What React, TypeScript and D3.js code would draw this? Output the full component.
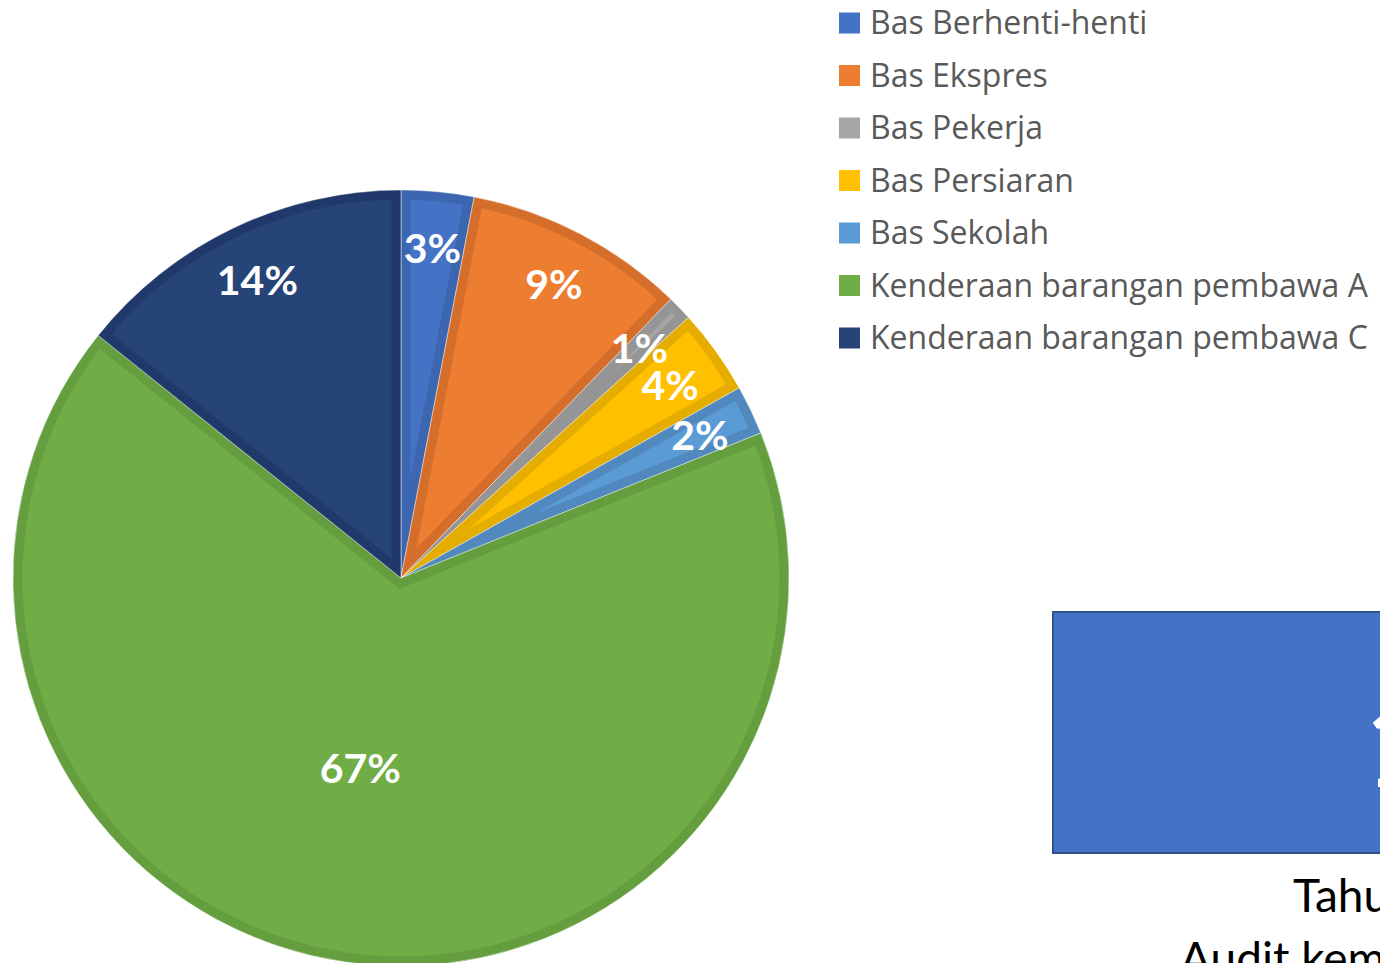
import React from "react";
import * as d3 from "d3";

const categories = [
  "Bas Berhenti-henti",
  "Bas Ekspres",
  "Bas Pekerja",
  "Bas Persiaran",
  "Bas Sekolah",
  "Kenderaan barangan pembawa A",
  "Kenderaan barangan pembawa C",
];
const values = [3.02, 9.22, 1.04, 3.57, 2.05, 66.85, 14.25];
const labels = ["3%", "9%", "1%", "4%", "2%", "67%", "14%"];
const fills = ["#4472C4", "#ED7D31", "#A5A5A5", "#FFC000", "#5B9BD5", "#70AD47", "#264478"];
const borders = ["#3D66B0", "#D56E2B", "#959595", "#E5AD00", "#5189BF", "#659E3F", "#21396A"];

const W = 1380;
const H = 963;
const cx = 401;
const cy = 578;
const R = 388;

export default function App() {
  const pie = d3.pie<number>().sort(null).value((d) => d)(values);
  const arc = d3.arc<d3.PieArcDatum<number>>().innerRadius(0).outerRadius(R);
  const labelPos = (d: d3.PieArcDatum<number>) => {
    const big = d.data > 50;
    const frac = big ? 0.5 : 0.855;
    const a = (d.startAngle + d.endAngle) / 2 + (big ? 0.065 : 0);
    return [Math.sin(a) * R * frac, -Math.cos(a) * R * frac];
  };
  const legendY = d3.scaleLinear().domain([0, 1]).range([23, 75.5]);
  const legendFont = "'Open Sans', sans-serif";
  const labelFont = "Lato, 'Open Sans', sans-serif";
  return (
    <svg width={W} height={H} style={{ position: "absolute", left: 0, top: 0 }}>
      <defs>
        {pie.map((d, i) => (
          <clipPath id={`clip${i}`} key={i}>
            <path d={arc(d) || ""} />
          </clipPath>
        ))}
      </defs>
      <g transform={`translate(${cx},${cy})`}>
        {pie.map((d, i) => (
          <g key={i}>
            <path
              d={arc(d) || ""}
              fill={fills[i]}
              stroke={borders[i]}
              strokeWidth={19}
              strokeLinejoin="miter"
              clipPath={`url(#clip${i})`}
            />
            <path d={arc(d) || ""} fill="none" stroke="#ffffff" strokeOpacity={0.45} strokeWidth={1} />
          </g>
        ))}
        {pie.map((d, i) => {
          const [x, y] = labelPos(d);
          return (
            <text
              key={i}
              x={x}
              y={y}
              dy="0.38em"
              textAnchor="middle"
              fill="#ffffff"
              fontFamily={labelFont}
              fontWeight="bold"
              fontSize={41}
            >
              {labels[i]}
            </text>
          );
        })}
      </g>
      <g>
        {categories.map((c, i) => (
          <g key={c} transform={`translate(839,${legendY(i)})`}>
            <rect x={0} y={-10.5} width={21} height={21} fill={fills[i]} />
            <text x={31} y={0} dy="0.35em" fill="#595959" fontFamily={legendFont} fontSize={32}>
              {c}
            </text>
          </g>
        ))}
      </g>
      <rect x={1053} y={612} width={360} height={241} fill="#4472C4" stroke="#2F528F" strokeWidth={2} />
      <text x={1363} y={787} fill="#ffffff" fontFamily="Lato, sans-serif" fontSize={120}>
        1
      </text>
      <text x={1293} y={912} fill="#000000" fontFamily="Lato, sans-serif" fontSize={46}>
        Tahun
      </text>
      <text x={1180} y={975} fill="#000000" fontFamily="Lato, sans-serif" fontSize={46}>
        Audit kemalangan
      </text>
    </svg>
  );
}
